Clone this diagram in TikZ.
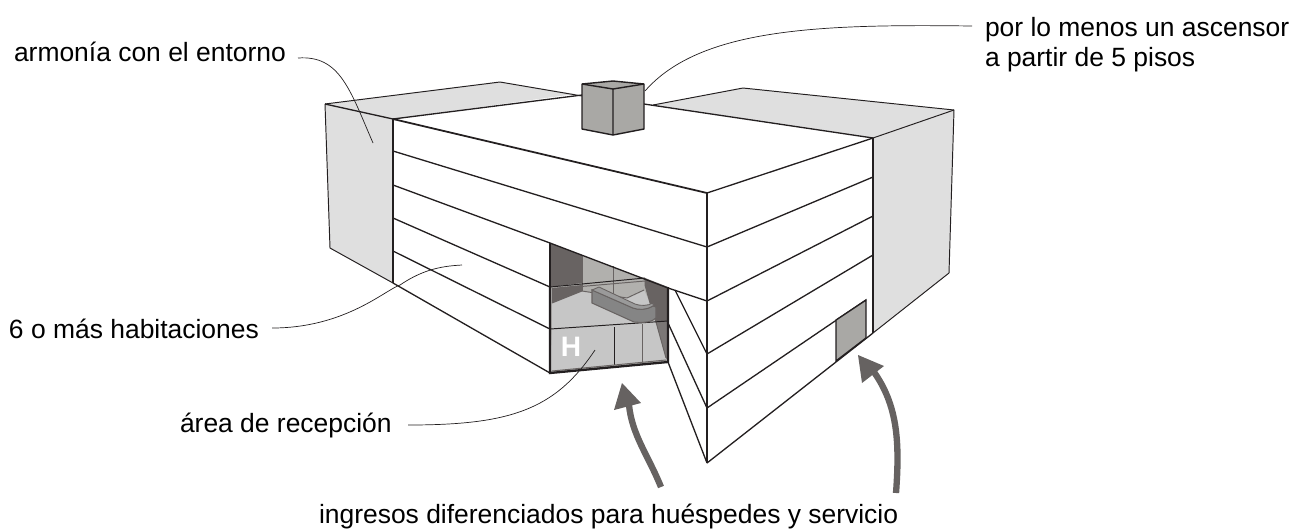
\documentclass[tikz,border=0pt]{standalone}
\usepackage{fontspec}
\setmainfont{Liberation Sans}
\definecolor{ink}{HTML}{231F20}
\definecolor{wallgrey}{HTML}{DFDFDF}
\definecolor{cubegrey}{HTML}{A9A8A5}
\definecolor{darkgrey}{HTML}{686362}
\definecolor{midgrey}{HTML}{B1B0AD}
\definecolor{lightgrey}{HTML}{C6C6C6}
\definecolor{deskgrey}{HTML}{858585}
\definecolor{desktop}{HTML}{9A9A9A}
\definecolor{arrowgrey}{HTML}{666261}
\tikzset{
  edge/.style={draw=ink,line width=0.75pt,line join=round},
  thinedge/.style={draw=ink,line width=0.55pt,line join=round},
  heavy/.style={draw=ink,line width=1.3pt,line join=miter},
  leader/.style={draw=ink,line width=0.4pt},
  label/.style={anchor=base west,inner sep=0pt,outer sep=0pt,font=\fontsize{15.05pt}{17pt}\selectfont,text=black},
  bigarrow/.style={draw=arrowgrey,line width=3.6pt},
  bighead/.style={fill=arrowgrey,draw=none}
}
\begin{document}
\begin{tikzpicture}[x=0.02cm,y=-0.02cm]
\useasboundingbox (0,0) rectangle (1295,529);
% named corners
\coordinate (ltop) at (393,119);
\coordinate (lback) at (325,104);
\coordinate (corner) at (707,193);
\coordinate (rtop) at (873,138);
\coordinate (rback) at (954,110);
% grey walls
\fill[wallgrey] (lback) -- (500,82) -- (575,94) -- (ltop) -- cycle;
\fill[wallgrey] (lback) -- (ltop) -- (393,283) -- (330,248) -- cycle;
\fill[wallgrey] (653,105) -- (743,88) -- (rback) -- (rtop) -- cycle;
\fill[wallgrey] (rtop) -- (rback) -- (949,273) -- (873,333) -- cycle;
% outlines of the walls
\draw[thinedge] (lback) -- (500,82) -- (582,96);
\draw[edge] (lback) -- (ltop);
\draw[edge] (ltop) -- (582,95);
\draw[thinedge] (lback) -- (330,248) -- (393,283);
\draw[thinedge] (653,105) -- (743,88) -- (rback) -- (949,273) -- (873,333);
\draw[thinedge] (rback) -- (rtop);
\draw[edge] (644,104) -- (rtop);
\draw[edge] (ltop) -- (393,283);
\draw[edge] (rtop) -- (873,333);
% left facade
\draw[heavy,line width=1pt] (ltop) -- (corner);
\draw[edge] (393,151) -- (corner |- 0,247);
\draw[edge] (393,185) -- (550,243);
\draw[edge] (668,288) -- (707,301);
\draw[edge] (393,218) -- (550,287);
\draw[edge] (393,251) -- (550,329);
\draw[edge] (393,283) -- (550,373);
% right facade
\draw[edge] (corner) -- (rtop);
\draw[edge] (707,247) -- (873,177);
\draw[edge] (707,301) -- (873,216);
\draw[edge] (707,354) -- (873,255);
\draw[edge] (707,408) -- (866,300);
\draw[edge] (707,463) -- (873,333);
\draw[heavy,line width=1pt] (corner) -- (707,463);
% fold
\draw[edge] (675,290) -- (707,354);
\draw[edge] (668,323) -- (707,408);
\draw[edge] (668,362) -- (707,463);
% service door
\filldraw[fill=cubegrey,draw=ink,line width=0.8pt] (836,320) -- (866,300) -- (866,338) -- (836,361) -- cycle;
% entrance: back wall
\fill[midgrey] (550,243) -- (668,288) -- (668,362) -- (550,373) -- cycle;
\fill[darkgrey] (550,243) -- (582,255) -- (582,283) -- (550,287) -- cycle;
\fill[darkgrey] (645,278) -- (668,287) -- (668,321) -- (656,322) -- (650,303) -- (645,285) -- cycle;
\fill[lightgrey] (552,303) -- (582,291) -- (627,298) -- (644,290) -- (650,303) -- (656,322) -- (667,360) -- (550,372) -- (552,329) -- cycle;
\fill[darkgrey] (552,288) -- (582,285) -- (582,291) -- (552,303) -- cycle;
\fill[darkgrey!80!lightgrey] (656,322) -- (668,321) -- (668,361) -- (666,358) -- cycle;
\draw[thinedge,draw=darkgrey] (582,255) -- (582,291);
\draw[thinedge,draw=darkgrey] (613,266) -- (613,296);
\draw[thinedge,draw=darkgrey] (582,291) -- (627,298) -- (644,290);
\draw[thinedge,draw=darkgrey] (582,291) -- (552,303);
\draw[thinedge,draw=darkgrey] (645,278) -- (645,285) -- (650,303) -- (656,322) -- (666,358);
\draw[thinedge] (550,287) -- (645,278);
\draw[thinedge,draw=darkgrey] (552,289) -- (645,281);
\draw[thinedge] (550,329) -- (668,321);
\draw[thinedge] (614,327) -- (614,365);
\draw[thinedge,draw=darkgrey] (642,324) -- (642,362);
\draw[thinedge,draw=darkgrey] (552,371) -- (666,360);
% desk
\filldraw[fill=deskgrey,draw=darkgrey,line width=0.6pt] (592,290) -- (633,308) .. controls (638,310) and (647,310) .. (653,306) -- (656,307) -- (656,318) .. controls (652,322) and (645,323) .. (634,322) -- (592,303) -- cycle;
\filldraw[fill=desktop,draw=darkgrey,line width=0.5pt] (592,290) -- (599,287) -- (635,304) .. controls (640,306) and (648,306) .. (653,303) -- (653,306) .. controls (647,310) and (638,310) .. (633,308) -- cycle;
% entrance frame
\draw[heavy] (550,287) -- (550,373) -- (668,362) -- (668,287);
\draw[edge] (550,243) -- (550,287);
\draw[edge] (550,243) -- (668,288);
\node[anchor=center,inner sep=0pt,text=white,font=\fontsize{16pt}{17pt}\selectfont\bfseries] (hsign) at (571,347) {H};
% cube
\filldraw[fill=cubegrey,draw=ink,line width=0.8pt,line join=round] (582,84) -- (613,81) -- (644,84) -- (644,129) -- (613,135) -- (582,129) -- cycle;
\draw[ink,line width=0.8pt] (582,84) -- (613,89) -- (644,84) (613,89) -- (613,135);
% labels
\node[label] (armonia) at (14,61) {armonía con el entorno};
\node[label] (ascensor) at (985,36) {por lo menos un ascensor};
\node[label] (pisos) at (985,66) {a partir de 5 pisos};
\node[label] (habit) at (9,338) {6 o más habitaciones};
\node[label] (recep) at (180,432) {área de recepción};
\node[label] (ingreso) at (319,523) {ingresos diferenciados para huéspedes y servicio};
% leaders
\coordinate (l1a) at (298,58); \coordinate (l1b) at (373,143);
\coordinate (l2a) at (972,26); \coordinate (l2b) at (645,91);
\coordinate (l3a) at (272,328); \coordinate (l3b) at (462,265);
\coordinate (l4a) at (408,425); \coordinate (l4b) at (595,350);
\draw[leader] (l1a) .. controls (340,55) and (350,90) .. (l1b);
\draw[leader] (l2a) .. controls (820,24) and (700,28) .. (l2b);
\draw[leader] (l3a) .. controls (345,328) and (385,290) .. (400,285) .. controls (425,268) and (445,266) .. (l3b);
\draw[leader] (l4a) .. controls (510,425) and (555,410) .. (l4b);
% arrows
\coordinate (a1a) at (661,487); \coordinate (a1b) at (629,405);
\coordinate (a2a) at (896,493); \coordinate (a2b) at (874,372);
\draw[bigarrow] (a1a) .. controls (648,455) and (632,435) .. (a1b);
\fill[bighead] (622,383) -- (641,403) -- (614,410) -- cycle;
\draw[bigarrow] (a2a) .. controls (900,440) and (897,405) .. (a2b);
\fill[bighead] (858,355) -- (884,366) -- (862,383) -- cycle;
\end{tikzpicture}
\end{document}
